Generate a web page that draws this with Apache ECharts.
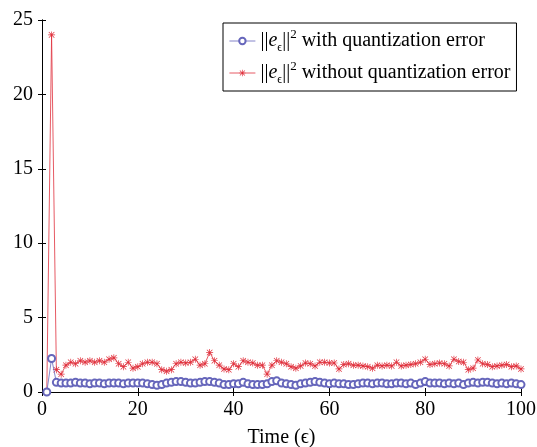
<!DOCTYPE html>
<html>
<head>
<meta charset="utf-8">
<script src="https://cdn.jsdelivr.net/npm/echarts@6/dist/echarts.min.js"></script>
<style>
  html, body { margin: 0; padding: 0; background: #fff; }
  #chart { width: 537px; height: 447px; }
</style>
</head>
<body>
<div id="chart"></div>
<script>
// time steps 1..100
var steps = [];
for (var k = 1; k <= 100; k++) { steps.push(k); }

// ||e||^2 with quantization error
var withQuant = [
  0, 2.25, 0.65, 0.6, 0.6, 0.6, 0.65, 0.6, 0.6, 0.55,
  0.6, 0.6, 0.55, 0.6, 0.6, 0.6, 0.55, 0.6, 0.6, 0.6,
  0.6, 0.55, 0.5, 0.45, 0.5, 0.6, 0.65, 0.7, 0.7, 0.65,
  0.6, 0.6, 0.65, 0.7, 0.7, 0.65, 0.6, 0.5, 0.5, 0.55,
  0.55, 0.65, 0.55, 0.5, 0.5, 0.5, 0.55, 0.7, 0.75, 0.6,
  0.55, 0.5, 0.45, 0.55, 0.6, 0.65, 0.7, 0.65, 0.6, 0.55,
  0.6, 0.55, 0.55, 0.5, 0.5, 0.55, 0.6, 0.6, 0.55, 0.6,
  0.6, 0.55, 0.55, 0.6, 0.6, 0.55, 0.6, 0.5, 0.6, 0.7,
  0.6, 0.6, 0.6, 0.55, 0.6, 0.55, 0.6, 0.5, 0.6, 0.65,
  0.6, 0.65, 0.65, 0.6, 0.55, 0.6, 0.55, 0.6, 0.55, 0.5
];

// ||e||^2 without quantization error
var withoutQuant = [
  0, 24, 1.5, 1.2, 1.8, 2.0, 1.9, 2.1, 2.0, 2.1,
  2.0, 2.1, 2.0, 2.2, 2.3, 1.9, 1.7, 2.0, 1.6, 1.7,
  1.9, 2.0, 2.0, 1.9, 1.5, 1.4, 1.5, 1.9, 2.0, 1.95,
  2.0, 2.2, 1.8, 1.9, 2.65, 2.1, 1.8, 1.55, 1.5, 1.9,
  1.7, 2.1, 2.0, 1.95, 1.8, 1.8, 1.2, 1.8, 2.1, 2.0,
  1.9, 1.7, 1.6, 1.75, 1.95, 1.9, 1.75, 2.0, 2.0, 1.95,
  1.95, 1.55, 1.85, 1.9, 1.8, 1.8, 1.75, 1.7, 1.6, 1.8,
  1.75, 1.8, 1.75, 2.0, 1.75, 1.8, 1.85, 1.9, 2.0, 2.2,
  1.85, 1.9, 1.95, 1.9, 1.75, 2.2, 2.05, 2.0, 1.5, 1.6,
  2.15, 1.9, 1.85, 1.7, 1.75, 1.8, 1.85, 1.7, 1.75, 1.55
];

var xTicks = [0, 20, 40, 60, 80, 100];
var yTicks = [0, 5, 10, 15, 20, 25];

var serif = 'Liberation Serif';
var blue = '#6666bb';
var red = '#e0303c';
var star = 'path://M4.5 0H5.5V10H4.5Z M0 4.5H10V5.5H0Z M0.7 1.4L1.4 0.7L9.3 8.6L8.6 9.3Z M8.6 0.7L9.3 1.4L1.4 9.3L0.7 8.6Z';

function pairs(vals) {
  return vals.map(function (v, i) { return [steps[i], v]; });
}

var chart = echarts.init(document.getElementById('chart'));

var boxAxis = {
  axisLine: { show: true, lineStyle: { color: '#000', width: 1 } },
  axisTick: { show: true, inside: true, length: 4, lineStyle: { color: '#000' } },
  splitLine: { show: false }
};

var option = {
  animation: false,
  backgroundColor: '#fff',
  grid: { left: 42, right: 16, top: 20, bottom: 55, containLabel: false, outerBoundsMode: 'none' },
  legend: {
    orient: 'vertical',
    left: 223,
    top: 23,
    padding: [5, 6, 5, 6],
    itemGap: 6,
    itemWidth: 26,
    itemHeight: 8,
    borderColor: '#000',
    borderWidth: 1,
    backgroundColor: '#fff',
    lineStyle: { width: 0.8 },
    itemStyle: { borderWidth: 0.7 },
    data: ['with', 'without'],
    formatter: function (name) {
      var tail = name === 'with' ? ' with quantization error' : ' without quantization error';
      return '{b|||}{e|e}{s|ϵ}{b|||}{p|2}{b|' + tail + '}';
    },
    textStyle: {
      fontFamily: serif,
      fontSize: 20,
      color: '#000',
      rich: {
        b: { fontFamily: serif, fontSize: 20, color: '#000', lineHeight: 26, verticalAlign: 'middle' },
        e: { fontFamily: serif, fontSize: 20, fontStyle: 'italic', color: '#000', lineHeight: 26, verticalAlign: 'middle' },
        s: { fontFamily: serif, fontSize: 12, color: '#000', verticalAlign: 'bottom', lineHeight: 24 },
        p: { fontFamily: serif, fontSize: 13, color: '#000', verticalAlign: 'top', lineHeight: 24 }
      }
    }
  },
  xAxis: [
    Object.assign({
      type: 'value', min: 0, max: 100, interval: 20, position: 'bottom',
      name: 'Time (ϵ)', nameLocation: 'middle', nameGap: 36,
      nameTextStyle: { fontFamily: serif, fontSize: 20, color: '#000' },
      axisLabel: {
        fontFamily: serif, fontSize: 20, color: '#000', margin: 8,
        formatter: function (v) { return xTicks.indexOf(v) >= 0 ? String(v) : ''; }
      }
    }, boxAxis),
    Object.assign({
      type: 'value', min: 0, max: 100, interval: 20, position: 'top',
      axisLabel: { show: false }
    }, boxAxis)
  ],
  yAxis: [
    Object.assign({
      type: 'value', min: 0, max: 25, interval: 5, position: 'left',
      axisLabel: {
        fontFamily: serif, fontSize: 20, color: '#000', margin: 9,
        formatter: function (v) { return yTicks.indexOf(v) >= 0 ? String(v) : ''; }
      }
    }, boxAxis),
    Object.assign({
      type: 'value', min: 0, max: 25, interval: 5, position: 'right',
      axisLabel: { show: false }
    }, boxAxis)
  ],
  series: [
    {
      name: 'with',
      type: 'line',
      data: pairs(withQuant),
      symbol: 'emptyCircle',
      symbolSize: 7,
      showAllSymbol: true,
      lineStyle: { color: blue, width: 0.8 },
      itemStyle: { color: blue, borderColor: blue, borderWidth: 0.7 },
      z: 3
    },
    {
      name: 'without',
      type: 'line',
      data: pairs(withoutQuant),
      symbol: star,
      symbolSize: 7,
      showAllSymbol: true,
      lineStyle: { color: red, width: 0.8 },
      itemStyle: { color: red },
      z: 2
    }
  ]
};

chart.setOption(option);
</script>
</body>
</html>
